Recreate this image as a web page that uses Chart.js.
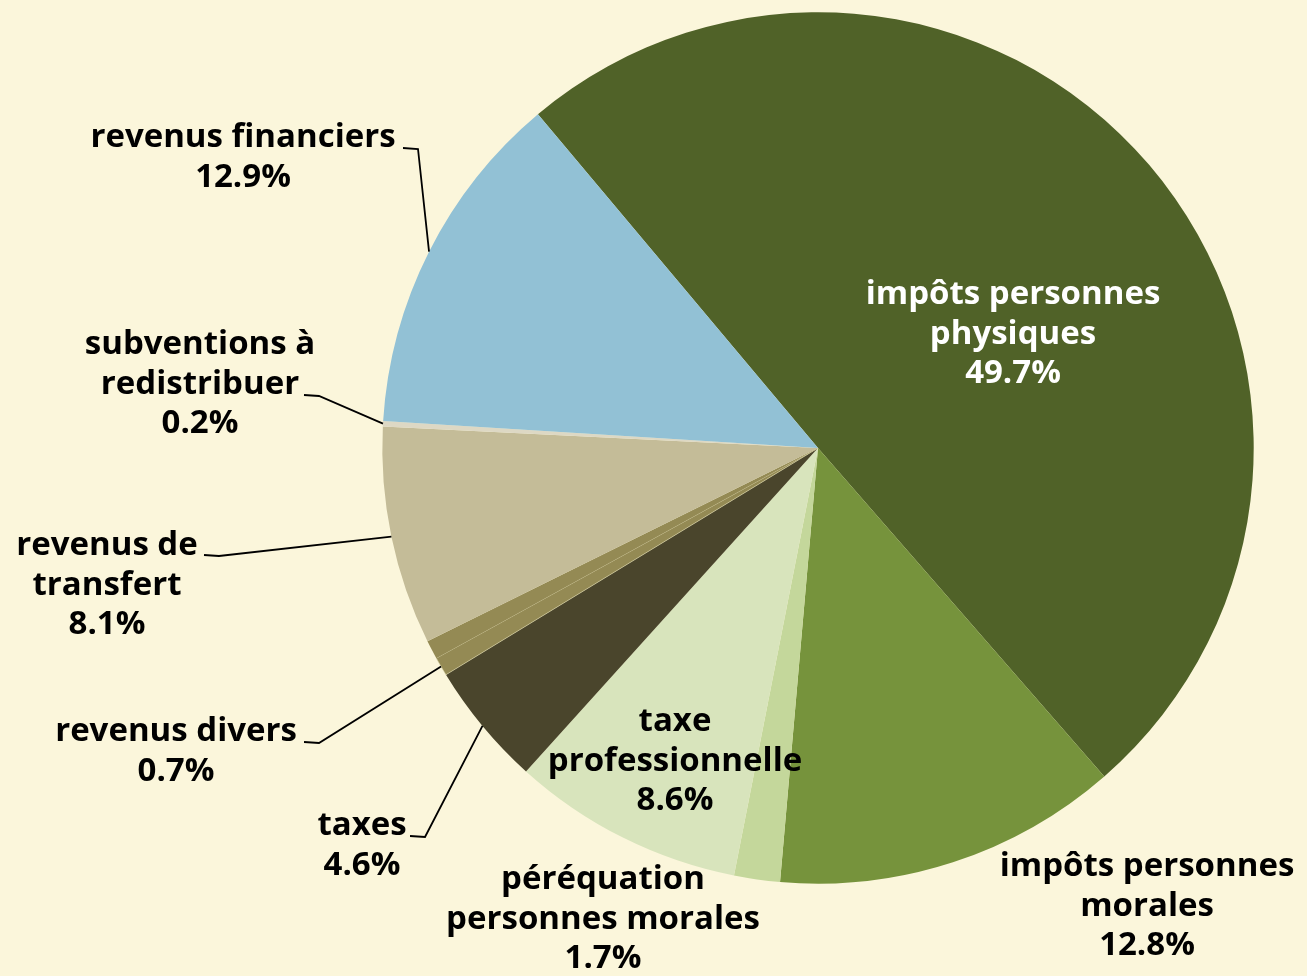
<!DOCTYPE html>
<html>
<head>
<meta charset="utf-8">
<script src="https://cdn.jsdelivr.net/npm/chart.js@4.4.1/dist/chart.umd.min.js"></script>
<style>
  html, body { margin: 0; padding: 0; background: #FBF6DB; }
  #wrap { width: 1307px; height: 976px; }
</style>
</head>
<body>
<div id="wrap"><canvas id="pie"></canvas></div>
<script>
// Data, clockwise from the top-left boundary
const categories = [
  "impôts personnes physiques",
  "impôts personnes morales",
  "péréquation personnes morales",
  "taxe professionnelle",
  "taxes",
  "revenus divers",
  "(sans étiquette)",
  "revenus de transfert",
  "subventions à redistribuer",
  "revenus financiers"
];
const shares = [49.7, 12.8, 1.7, 8.6, 4.6, 0.7, 0.7, 8.1, 0.2, 12.9];
const sliceColors = [
  "#506228", "#76933C", "#C4D79B", "#D8E4BC", "#4A452C",
  "#948A54", "#948A54", "#C4BC98", "#DDD8C4", "#92C1D5"
];

// Label text blocks: [slice index, lines, x centre, first line y, colour, leader start]
const labels = [
  [0, ["impôts personnes", "physiques", "49.7%"], 1013, 295, "#ffffff", null],
  [1, ["impôts personnes", "morales", "12.8%"], 1147, 867, "#000000", null],
  [2, ["péréquation", "personnes morales", "1.7%"], 603, 880, "#000000", null],
  [3, ["taxe", "professionnelle", "8.6%"], 675, 722, "#000000", null],
  [4, ["taxes", "4.6%"], 362, 826, "#000000", [410, 836]],
  [5, ["revenus divers", "0.7%"], 176, 732, "#000000", [304, 742]],
  [7, ["revenus de", "transfert", "8.1%"], 107, 546, "#000000", [204, 555]],
  [8, ["subventions à", "redistribuer", "0.2%"], 200, 345, "#000000", [304, 395]],
  [9, ["revenus financiers", "12.9%"], 243, 138, "#000000", [403, 148]]
];

const labelPlugin = {
  id: "sliceLabels",
  afterDatasetsDraw(chart) {
    const ctx = chart.ctx;
    const arcs = chart.getDatasetMeta(0).data;
    ctx.save();
    labels.forEach(([idx, lines, x, y, color, from]) => {
      if (from) {
        const a = arcs[idx];
        const mid = (a.startAngle + a.endAngle) / 2;
        const ex = a.x + Math.cos(mid) * a.outerRadius;
        const ey = a.y + Math.sin(mid) * a.outerRadius;
        ctx.strokeStyle = "#000";
        ctx.lineWidth = 1.8;
        ctx.beginPath();
        ctx.moveTo(from[0], from[1]);
        ctx.lineTo(from[0] + 15, from[1] + 1);
        ctx.lineTo(ex, ey);
        ctx.stroke();
      }
      ctx.fillStyle = color;
      ctx.font = "bold 33px 'Open Sans'";
      ctx.textAlign = "center";
      ctx.textBaseline = "middle";
      lines.forEach((t, i) => ctx.fillText(t, x, y + i * 39.5));
    });
    ctx.restore();
  }
};

new Chart(document.getElementById("pie"), {
  type: "pie",
  data: {
    labels: categories,
    datasets: [{
      data: shares,
      backgroundColor: sliceColors,
      borderWidth: [0, 0, 0, 0, 0, 0.6, 0, 0, 0, 0],
      borderColor: "#D8D3A8"
    }]
  },
  options: {
    responsive: true,
    maintainAspectRatio: false,
    animation: false,
    rotation: -40,
    layout: { padding: { top: 12, bottom: 92, left: 382, right: 53 } },
    plugins: {
      legend: { display: false },
      tooltip: { enabled: false }
    }
  },
  plugins: [labelPlugin]
});
</script>
</body>
</html>
